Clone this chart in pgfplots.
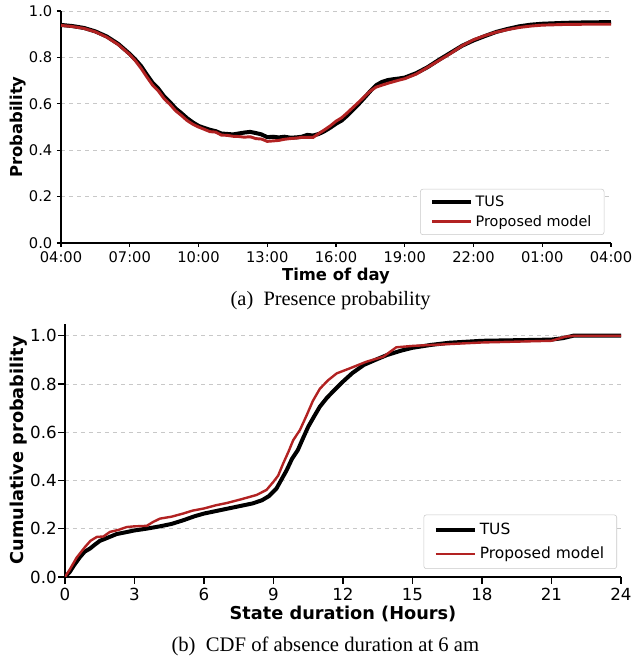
\documentclass[border=0pt]{standalone}
\usepackage{fontspec}
\setmainfont{Liberation Serif}
\newfontfamily\dv{DejaVu Sans}
\usepackage{pgfplots}
\pgfplotsset{compat=1.18}
\definecolor{modelred}{RGB}{178,34,34}
\definecolor{gridgray}{RGB}{200,200,200}

\pgfplotstableread{
x y
4.0 0.940
4.5 0.935
5.0 0.927
5.5 0.912
6.0 0.890
6.5 0.858
7.0 0.815
7.25 0.790
7.5 0.762
7.75 0.725
8.0 0.690
8.25 0.665
8.5 0.632
8.75 0.608
9.0 0.580
9.25 0.560
9.5 0.538
9.75 0.520
10.0 0.505
10.25 0.496
10.5 0.488
10.75 0.482
11.0 0.472
11.25 0.470
11.5 0.468
11.75 0.472
12.0 0.476
12.25 0.479
12.5 0.474
12.75 0.468
13.0 0.456
13.25 0.458
13.5 0.455
13.75 0.458
14.0 0.454
14.25 0.455
14.5 0.458
14.75 0.466
15.0 0.463
15.25 0.470
15.5 0.482
15.75 0.497
16.0 0.514
16.25 0.528
16.5 0.550
16.75 0.575
17.0 0.600
17.25 0.627
17.5 0.655
17.75 0.680
18.0 0.694
18.25 0.702
18.5 0.706
18.75 0.709
19.0 0.713
19.5 0.732
20.0 0.758
20.5 0.790
21.0 0.820
21.5 0.850
22.0 0.873
22.5 0.892
23.0 0.910
23.5 0.923
24.0 0.934
24.5 0.941
25.0 0.945
26.0 0.949
27.0 0.951
28.0 0.952
}\tusday

\pgfplotstableread{
x y
4.0 0.938
4.5 0.933
5.0 0.925
5.5 0.910
6.0 0.887
6.5 0.855
7.0 0.812
7.25 0.785
7.5 0.752
7.75 0.715
8.0 0.680
8.25 0.655
8.5 0.622
8.75 0.598
9.0 0.570
9.25 0.550
9.5 0.528
9.75 0.512
10.0 0.500
10.25 0.490
10.5 0.480
10.75 0.478
11.0 0.465
11.25 0.464
11.5 0.460
11.75 0.459
12.0 0.456
12.25 0.458
12.5 0.450
12.75 0.448
13.0 0.438
13.25 0.440
13.5 0.442
13.75 0.447
14.0 0.450
14.25 0.452
14.5 0.455
14.75 0.455
15.0 0.455
15.25 0.472
15.5 0.488
15.75 0.505
16.0 0.525
16.25 0.540
16.5 0.562
16.75 0.585
17.0 0.608
17.25 0.632
17.5 0.655
17.75 0.672
18.0 0.680
18.25 0.688
18.5 0.695
18.75 0.702
19.0 0.708
19.5 0.728
20.0 0.757
20.5 0.787
21.0 0.817
21.5 0.850
22.0 0.876
22.5 0.894
23.0 0.909
23.5 0.920
24.0 0.929
24.5 0.935
25.0 0.939
26.0 0.942
27.0 0.943
28.0 0.943
}\modelday

\pgfplotstableread{
x y
0 0
0.2 0.02
0.4 0.05
0.65 0.083
0.85 0.105
1.08 0.118
1.3 0.135
1.51 0.150
1.9 0.165
2.23 0.178
2.6 0.185
3.0 0.193
3.5 0.200
4.1 0.210
4.6 0.220
5.1 0.235
5.6 0.252
6.0 0.263
6.5 0.273
7.0 0.283
7.6 0.295
8.1 0.305
8.5 0.318
8.8 0.335
9.13 0.367
9.35 0.405
9.57 0.443
9.8 0.490
10.05 0.526
10.25 0.570
10.5 0.623
10.75 0.665
11.0 0.706
11.3 0.742
11.6 0.772
12.0 0.810
12.4 0.845
12.9 0.879
13.4 0.900
13.9 0.920
14.5 0.938
15.0 0.950
15.8 0.962
16.6 0.971
18.0 0.979
21.0 0.984
21.5 0.990
21.94 1.0
24 1.0
}\tuscdf

\pgfplotstableread{
x y
0 0
0.2 0.03
0.5 0.08
0.86 0.124
1.1 0.150
1.37 0.166
1.66 0.168
1.94 0.187
2.3 0.195
2.66 0.207
3.0 0.210
3.53 0.212
3.8 0.228
4.1 0.242
4.6 0.250
5.1 0.263
5.5 0.275
6.0 0.284
6.5 0.297
7.0 0.307
7.6 0.322
8.27 0.340
8.7 0.361
9.0 0.395
9.2 0.420
9.42 0.471
9.65 0.520
9.85 0.567
10.14 0.609
10.43 0.670
10.7 0.730
11.0 0.780
11.35 0.815
11.73 0.844
12.3 0.865
13.0 0.892
13.74 0.913
14.3 0.952
15.03 0.958
16.3 0.964
18.0 0.972
21.0 0.979
21.6 0.996
22.0 1.0
24 1.0
}\modelcdf

\pgfplotsset{
  mplstyle/.style={
    scale only axis,
    axis x line*=bottom,
    axis y line*=left,
    tick align=outside,
    axis line style={line width=0.8pt, black},
    every tick/.style={black, line width=0.8pt},
    ymajorgrids,
    grid style={dashed, gridgray, line width=0.6pt},
    /pgf/number format/assume math mode=true,
    legend cell align=left,
  },
}

\begin{document}
\begin{tikzpicture}
\path[use as bounding box] (0,0) rectangle (474.75pt,495pt);

\begin{axis}[
  mplstyle,
  at={(45.75pt,312.75pt)}, anchor=south west,
  width=412.5pt, height=174pt,
  major tick length=3pt,
  xmin=4, xmax=28, ymin=0, ymax=1,
  xtick={4,7,10,13,16,19,22,25,28},
  xticklabels={04:00,07:00,10:00,13:00,16:00,19:00,22:00,01:00,04:00},
  ytick={0,0.2,0.4,0.6,0.8,1.0},
  yticklabel style={/pgf/number format/fixed, /pgf/number format/fixed zerofill, /pgf/number format/precision=1},
  tick label style={font=\dv\fontsize{11}{13}\selectfont},
  xlabel={Time of day}, ylabel={Probability},
  label style={font=\dv\bfseries\fontsize{12.3}{14}\selectfont},
  xlabel style={yshift=3pt},
  ylabel shift=-5pt,
  legend image code/.code={\draw[#1] (0pt,0pt) -- (24pt,0pt); \path (0pt,0pt) -- (29pt,0pt);},
  legend style={at={(1,0)}, anchor=south east, xshift=-5pt, yshift=6pt,
    draw=gridgray, rounded corners=2pt, fill=white,
    font=\dv\fontsize{10.8}{13}\selectfont,
    inner xsep=7.5pt, inner ysep=3pt, row sep=1pt},
]
\addplot[black, line width=3pt] table[x=x, y=y] {\tusday};
\addlegendentry{TUS}
\addplot[modelred, line width=2.2pt] table[x=x, y=y] {\modelday};
\addlegendentry{Proposed model}
\end{axis}

\begin{axis}[
  mplstyle,
  at={(48.75pt,62.25pt)}, anchor=south west,
  width=417pt, height=190pt,
  major tick length=5pt,
  xmin=0, xmax=24, ymin=0, ymax=1.05,
  xtick={0,3,...,24},
  ytick={0,0.2,0.4,0.6,0.8,1.0},
  yticklabel style={inner xsep=1pt, /pgf/number format/fixed, /pgf/number format/fixed zerofill, /pgf/number format/precision=1},
  tick label style={font=\dv\fontsize{12.5}{15}\selectfont},
  xlabel={State duration (Hours)}, ylabel={Cumulative probability},
  label style={font=\dv\bfseries\fontsize{13.3}{15}\selectfont},
  xlabel style={yshift=3pt},
  ylabel shift=-2.5pt,
  legend image code/.code={\draw[#1] (0pt,0pt) -- (25.5pt,0pt); \path (0pt,0pt) -- (29.5pt,0pt);},
  legend style={at={(1,0)}, anchor=south east, xshift=-3pt, yshift=6pt,
    draw=gridgray, rounded corners=2pt, fill=white,
    font=\dv\fontsize{11.6}{14}\selectfont,
    inner xsep=7.5pt, inner ysep=4pt, row sep=4pt},
]
\addplot[black, line width=3pt] table[x=x, y=y] {\tuscdf};
\addlegendentry{TUS}
\addplot[modelred, line width=1.8pt] table[x=x, y=y] {\modelcdf};
\addlegendentry{Proposed model}
\end{axis}

\node[anchor=base, font=\fontsize{15.3}{18}\selectfont] at (248pt,266pt) {(a)\enspace Presence probability};
\node[anchor=base, font=\fontsize{15.5}{18}\selectfont] at (244pt,6pt) {(b)\enspace CDF of absence duration at 6 am};
\end{tikzpicture}
\end{document}
